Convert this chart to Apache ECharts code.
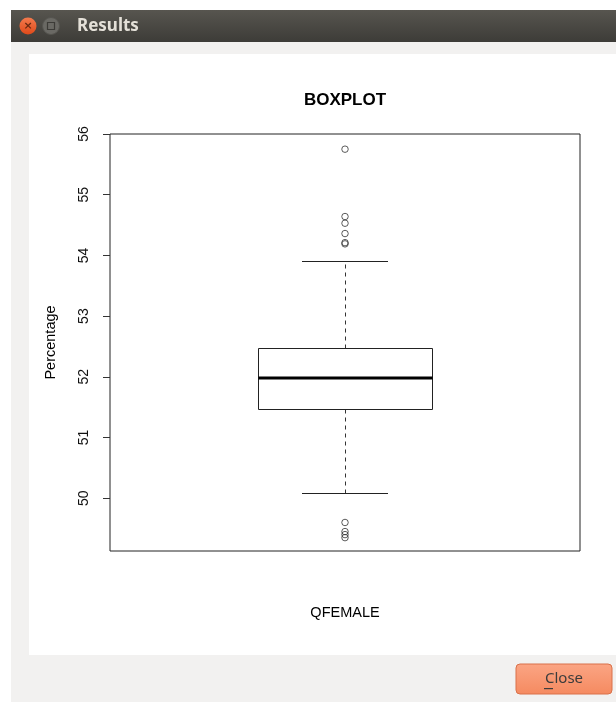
<!DOCTYPE html>
<html>
<head>
<meta charset="utf-8">
<script src="https://cdn.jsdelivr.net/npm/echarts@6/dist/echarts.min.js"></script>
<style>
html,body{margin:0;padding:0;background:#ffffff;}
#c{width:616px;height:702px;}
</style>
</head>
<body>
<div id="c"></div>
<script>
// ---- data ----
var categories = ['QFEMALE'];
// [lower whisker, Q1, median, Q3, upper whisker]
var boxStats = [50.09, 51.47, 51.98, 52.48, 53.90];
var outlierValues = [55.75, 54.64, 54.53, 54.36, 54.21, 54.19, 49.60, 49.45, 49.40, 49.35];
var yTickValues = [50, 51, 52, 53, 54, 55, 56];
var yMin = 49.13, yMax = 56.0;

var chart = echarts.init(document.getElementById('c'), null, {renderer: 'canvas'});
var FONT = '"Liberation Sans", Arial, Helvetica, sans-serif';

var option = {
  animation: false,
  backgroundColor: '#ffffff',
  graphic: [
    {type: 'rect', z: -10, shape: {x: 11, y: 10, width: 605, height: 33},
     style: {fill: new echarts.graphic.LinearGradient(0, 0, 0, 1, [{offset: 0, color: '#57554f'}, {offset: 1, color: '#3c3b37'}])}},
    {type: 'rect', z: -10, shape: {x: 11, y: 42, width: 605, height: 660}, style: {fill: '#f2f1f0'}},
    {type: 'rect', z: -9, shape: {x: 29, y: 54, width: 587, height: 601}, style: {fill: '#ffffff'}},
    {type: 'circle', z: -8, shape: {cx: 28, cy: 26, r: 8.5},
     style: {fill: new echarts.graphic.LinearGradient(0, 0, 0, 1, [{offset: 0, color: '#f47a4d'}, {offset: 1, color: '#df4a1a'}])}},
    {type: 'text', z: -7, style: {x: 28, y: 26, text: '×', fill: '#6b2a12', font: 'bold 11px "DejaVu Sans"', align: 'center', verticalAlign: 'middle'}},
    {type: 'circle', z: -8, shape: {cx: 51, cy: 26, r: 8.5}, style: {fill: '#6a6964', stroke: '#55544f', lineWidth: 1}},
    {type: 'rect', z: -7, shape: {x: 47.5, y: 22.5, width: 7, height: 7}, style: {fill: 'none', stroke: '#3c3b37', lineWidth: 1.2}},
    {type: 'text', z: -7, style: {x: 77, y: 26, text: 'Results', fill: '#e4e0d8', font: 'bold 17px "Noto Sans", "DejaVu Sans", sans-serif', verticalAlign: 'middle'}},
    {type: 'rect', z: -8, shape: {x: 516, y: 664, width: 96, height: 30, r: 4},
     style: {fill: new echarts.graphic.LinearGradient(0, 0, 0, 1, [{offset: 0, color: '#fba584'}, {offset: 1, color: '#f58a60'}]), stroke: '#d9714a', lineWidth: 1}},
    {type: 'text', z: -7, style: {x: 564, y: 679, text: 'Close', fill: '#3c3c3c', font: '15px "Noto Sans", "DejaVu Sans", sans-serif', align: 'center', verticalAlign: 'middle'}},
    {type: 'rect', z: -7, shape: {x: 544, y: 688, width: 9, height: 1.2}, style: {fill: '#3c3c3c'}},
    {type: 'text', z: 5, style: {x: 345, y: 100, text: 'BOXPLOT', fill: '#000', font: 'bold 17px "Liberation Sans", Arial, sans-serif', align: 'center', verticalAlign: 'middle'}}
  ],
  grid: {left: 110, right: 36, top: 134, bottom: 151, show: true, borderColor: '#222', borderWidth: 1, backgroundColor: 'transparent'},
  xAxis: {
    type: 'category', data: categories, boundaryGap: true,
    axisLine: {show: false}, axisTick: {show: false}, splitLine: {show: false},
    axisLabel: {margin: 54, fontFamily: FONT, fontSize: 14.5, color: '#000'}
  },
  yAxis: {
    type: 'value', min: yMin, max: yMax,
    name: 'Percentage', nameLocation: 'middle', nameRotate: 90, nameGap: 52,
    nameTextStyle: {fontFamily: FONT, fontSize: 14.5, color: '#000'},
    axisLine: {show: false},
    axisTick: {show: true, inside: false, length: 7, customValues: yTickValues, lineStyle: {color: '#333', width: 1}},
    axisLabel: {rotate: 90, margin: 19, customValues: yTickValues, fontFamily: FONT, fontSize: 14, color: '#111'},
    splitLine: {show: false}
  },
  series: [
    {
      type: 'custom',
      data: [[0].concat(boxStats)],
      renderItem: function (params, api) {
        var band = api.size([1, 0])[0];
        var cx = api.coord([api.value(0), 0])[0];
        var y = function (i) { return Math.round(api.coord([0, api.value(i)])[1]) + 0.5; };
        var lo = y(1), q1 = y(2), med = y(3), q3 = y(4), hi = y(5);
        var bw = band * 0.37 / 2, sw = band * 0.185 / 2;
        var xl = Math.round(cx - bw) + 0.5, xr = Math.round(cx + bw) + 0.5;
        var cxr = Math.round(cx) + 0.5;
        var line = {stroke: '#222', lineWidth: 1};
        var dash = {stroke: '#333', lineWidth: 1, lineDash: [4, 4]};
        return {
          type: 'group',
          children: [
            {type: 'line', shape: {x1: cxr, y1: q3, x2: cxr, y2: hi}, style: dash},
            {type: 'line', shape: {x1: cxr, y1: q1, x2: cxr, y2: lo}, style: dash},
            {type: 'line', shape: {x1: Math.round(cx - sw), y1: hi, x2: Math.round(cx + sw), y2: hi}, style: line},
            {type: 'line', shape: {x1: Math.round(cx - sw), y1: lo, x2: Math.round(cx + sw), y2: lo}, style: line},
            {type: 'rect', shape: {x: xl, y: q3, width: xr - xl, height: q1 - q3}, style: {fill: '#fff', stroke: '#222', lineWidth: 1}},
            {type: 'line', shape: {x1: xl, y1: med - 0.5, x2: xr, y2: med - 0.5}, style: {stroke: '#000', lineWidth: 3}}
          ]
        };
      }
    },
    {
      type: 'scatter',
      data: outlierValues.map(function (v) { return [0, v]; }),
      symbol: 'circle', symbolSize: 6.5,
      itemStyle: {color: 'rgba(255,255,255,0)', borderColor: '#333', borderWidth: 1}
    }
  ]
};
chart.setOption(option);
</script>
</body>
</html>
